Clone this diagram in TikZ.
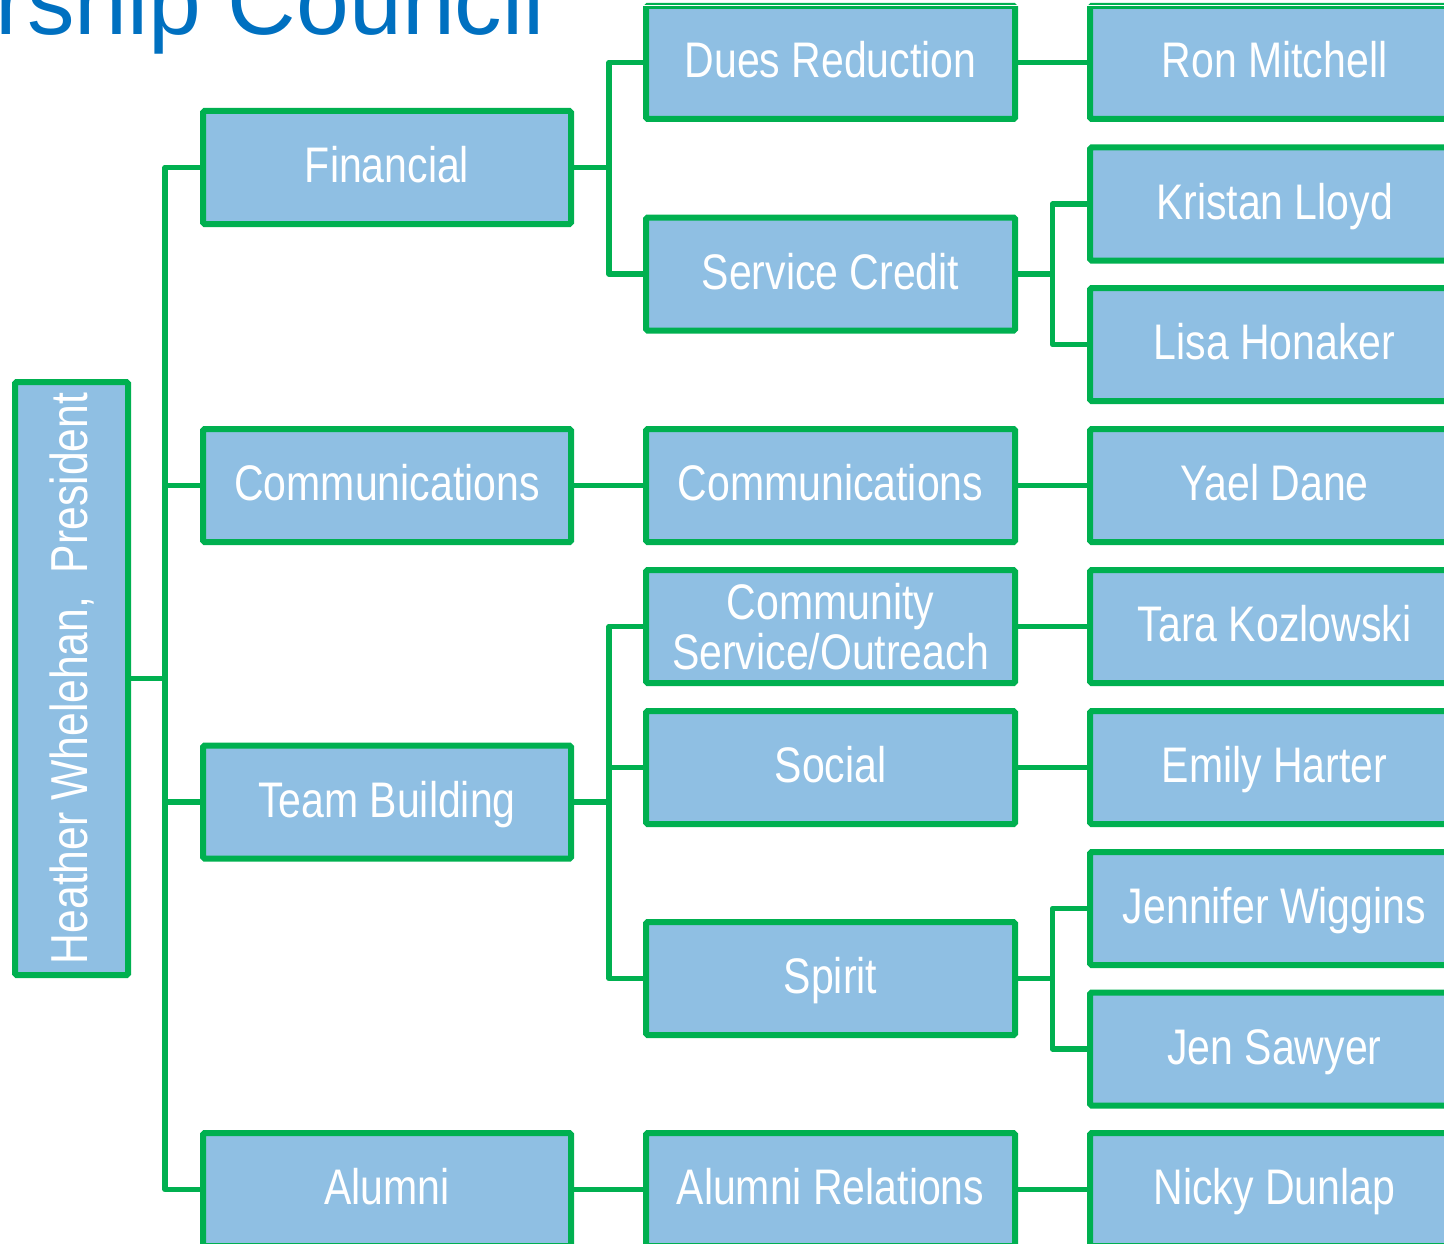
\documentclass[tikz,border=0pt]{standalone}
\usepackage{fontspec}
\newfontfamily\boxfont[FakeStretch=0.82]{Liberation Sans}
\newfontfamily\titlefont{Liberation Sans}
\definecolor{boxblue}{RGB}{143,191,227}
\definecolor{orggreen}{RGB}{0,176,80}
\definecolor{titleblue}{RGB}{0,112,192}
\begin{document}
\begin{tikzpicture}[x=1pt,y=-1pt,
  orgbox/.style={draw=orggreen, line width=6pt, fill=boxblue, rounded corners=1.5pt,
    inner sep=0pt, minimum width=369pt, minimum height=113pt, text=white,
    font={\boxfont\fontsize{50}{50}\selectfont}, text height=35.8pt, text depth=5pt},
  narrowbox/.style={orgbox, minimum width=368pt},
  conn/.style={draw=orggreen, line width=5.5pt, line join=round},
]
\useasboundingbox (0,0) rectangle (1444,1244);
\clip (0,0) rectangle (1444,1244);

\node[font={\titlefont\fontsize{95}{95}\selectfont}, text=titleblue, anchor=base east, inner sep=0pt] (title) at (545,34.5) {Membership Council};

% president
\node[orgbox, rotate=90, minimum width=593pt, minimum height=113pt,
  font={\boxfont\fontsize{52}{52}\selectfont}, text height=37pt] (pres) at (71.5,678.5) {Heather Whelehan,\ \ President};

% column 1
\node[narrowbox] (fin)   at (387,167.5)  {Financial};
\node[narrowbox] (comm1) at (387,485.5)  {Communications};
\node[narrowbox] (team)  at (387,802)    {Team Building};
\node[narrowbox] (alum)  at (387,1189.5) {Alumni};

% column 2
\node[orgbox] (dues)    at (830.5,62.5)   {Dues Reduction};
\node[orgbox] (svc)     at (830.5,274)    {Service Credit};
\node[orgbox] (comm2)   at (830.5,485.5)  {Communications};
\node[orgbox, text height=, text depth=, align=center] (csvc) at (830.5,626.5) {Community\\Service/Outreach};
\node[orgbox] (social)  at (830.5,767.5)  {Social};
\node[orgbox] (spirit)  at (830.5,978.5)  {Spirit};
\node[orgbox] (alumrel) at (830.5,1189.5) {Alumni Relations};

% column 3
\node[orgbox] (ron)      at (1274.5,62.5)   {Ron Mitchell};
\node[orgbox] (kristan)  at (1274.5,204)    {Kristan Lloyd};
\node[orgbox] (lisa)     at (1274.5,344.5)  {Lisa Honaker};
\node[orgbox] (yael)     at (1274.5,485.5)  {Yael Dane};
\node[orgbox] (tara)     at (1274.5,626.5)  {Tara Kozlowski};
\node[orgbox] (emily)    at (1274.5,767.5)  {Emily Harter};
\node[orgbox] (jennifer) at (1274.5,908.5)  {Jennifer Wiggins};
\node[orgbox] (jen)      at (1274.5,1049)   {Jen Sawyer};
\node[orgbox] (nicky)    at (1274.5,1189.5) {Nicky Dunlap};

% thin light line across the top of the first row
\draw[white, line width=1.4pt] ([yshift=-2.6pt]dues.north west) -- ([yshift=-2.6pt]dues.north east);
\draw[white, line width=1.4pt] ([yshift=-2.6pt]ron.north west) -- ([yshift=-2.6pt]ron.north east);

% junction points
\coordinate (t1) at (165,678.5);
\coordinate (t2) at (609,167.5);
\coordinate (t3) at (609,802);
\coordinate (t4) at (1052.5,274);
\coordinate (t5) at (1052.5,978.5);

% president to column 1
\draw[conn] (pres.south) -- (t1);
\draw[conn] (fin.west) -| (t1) |- (alum.west);
\draw[conn] (comm1.west) -- (t1 |- comm1.west);
\draw[conn] (team.west) -- (t1 |- team.west);

% column 1 to column 2
\draw[conn] (fin.east) -- (t2);
\draw[conn] (dues.west) -| (t2) |- (svc.west);
\draw[conn] (comm1.east) -- (comm2.west);
\draw[conn] (team.east) -- (t3);
\draw[conn] (csvc.west) -| (t3) |- (spirit.west);
\draw[conn] (social.west) -- (t3 |- social.west);
\draw[conn] (alum.east) -- (alumrel.west);

% column 2 to column 3
\draw[conn] (dues.east) -- (ron.west);
\draw[conn] (svc.east) -- (t4);
\draw[conn] (kristan.west) -| (t4) |- (lisa.west);
\draw[conn] (comm2.east) -- (yael.west);
\draw[conn] (csvc.east) -- (tara.west);
\draw[conn] (social.east) -- (emily.west);
\draw[conn] (spirit.east) -- (t5);
\draw[conn] (jennifer.west) -| (t5) |- (jen.west);
\draw[conn] (alumrel.east) -- (nicky.west);
\end{tikzpicture}
\end{document}
